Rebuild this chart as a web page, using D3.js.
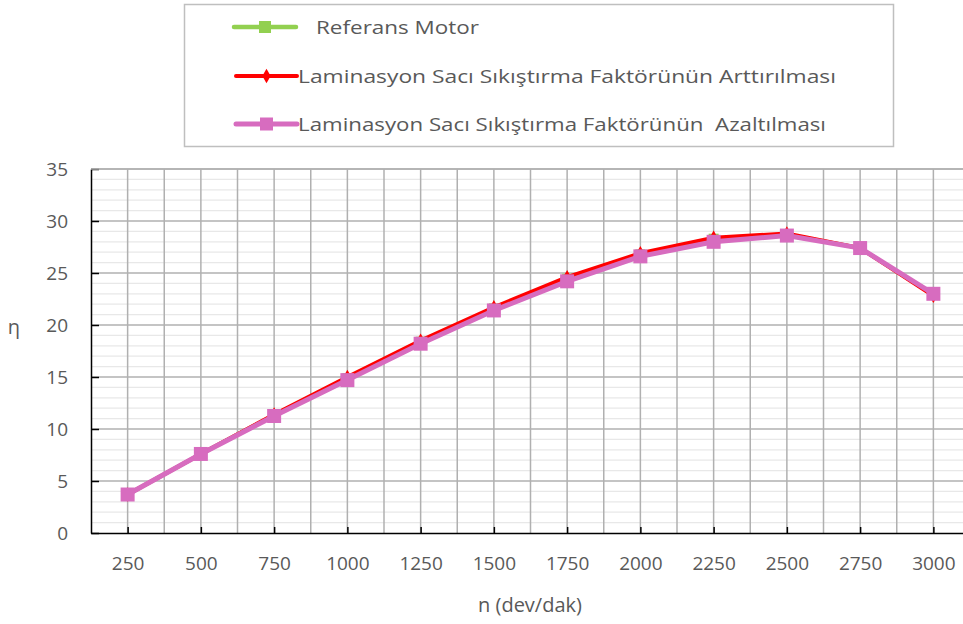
<!DOCTYPE html>
<html>
<head>
<meta charset="utf-8">
<script src="https://cdn.jsdelivr.net/npm/d3@7"></script>
<style>
  body { margin: 0; background: #fff; }
  svg { display: block; font-family: "Open Sans", sans-serif; }
</style>
</head>
<body>
<div id="chart"></div>
<script>
// Data
var speeds = ["250", "500", "750", "1000", "1250", "1500", "1750", "2000", "2250", "2500", "2750", "3000"];
var referans = [3.7, 7.6, 11.35, 14.9, 18.4, 21.6, 24.45, 26.8, 28.3, 28.7, 27.4, 22.9];
var arttirilmasi = [3.7, 7.6, 11.4, 15.0, 18.5, 21.7, 24.6, 26.9, 28.4, 28.8, 27.4, 22.8];
var azaltilmasi = [3.7, 7.6, 11.25, 14.7, 18.2, 21.4, 24.2, 26.6, 28.0, 28.6, 27.4, 23.0];
var yTicks = [0, 5, 10, 15, 20, 25, 30, 35];
var seriesNames = ["Referans Motor",
    "Laminasyon Sacı Sıkıştırma Faktörünün Arttırılması",
    "Laminasyon Sacı Sıkıştırma Faktörünün  Azaltılması"];

var svgWidth = 963;
var svgHeight = 624;

var plot = { left: 91, top: 169, right: 970, bottom: 533 };

var svg = d3.select("#chart")
    .append("svg")
    .attr("width", svgWidth)
    .attr("height", svgHeight);

var xScale = d3.scalePoint()
    .domain(speeds)
    .range([plot.left, plot.right])
    .padding(0.5);

var yScale = d3.scaleLinear()
    .domain([0, 35])
    .range([plot.bottom, plot.top]);

var step = xScale.step();

// minor horizontal gridlines (every 1)
svg.append("g").selectAll("line")
    .data(d3.range(1, 35).filter(d => d % 5 !== 0))
    .enter().append("line")
    .attr("x1", plot.left).attr("x2", plot.right)
    .attr("y1", d => yScale(d)).attr("y2", d => yScale(d))
    .attr("stroke", "#e8e8e8").attr("stroke-width", 1.3);

// vertical gridlines at category centers and edges
var vLines = [];
speeds.forEach(s => { vLines.push(xScale(s)); vLines.push(xScale(s) + step / 2); });
svg.append("g").selectAll("line")
    .data(vLines)
    .enter().append("line")
    .attr("x1", d => d).attr("x2", d => d)
    .attr("y1", plot.top).attr("y2", plot.bottom)
    .attr("stroke", "#b0b0b0").attr("stroke-width", 1.5);

// major horizontal gridlines
svg.append("g").selectAll("line")
    .data(yTicks.filter(d => d > 0))
    .enter().append("line")
    .attr("x1", plot.left).attr("x2", plot.right)
    .attr("y1", d => yScale(d)).attr("y2", d => yScale(d))
    .attr("stroke", "#b0b0b0").attr("stroke-width", 1.5);

// y axis
var yAxis = d3.axisLeft(yScale)
    .tickValues(yTicks)
    .tickSizeInner(-8)
    .tickSizeOuter(0)
    .tickPadding(23);

var yG = svg.append("g")
    .attr("transform", `translate(${plot.left}, 0)`)
    .call(yAxis);
yG.select(".domain").attr("stroke", "#000").attr("stroke-width", 1.5);
yG.selectAll(".tick line").attr("stroke", "#000").attr("stroke-width", 1.5);
yG.selectAll("text")
    .style("font-size", "19px")
    .style("font-family", "'Open Sans', sans-serif")
    .attr("fill", "#595959");

// x axis
var xAxis = d3.axisBottom(xScale)
    .tickSizeInner(-6)
    .tickSizeOuter(0)
    .tickPadding(24);

var xG = svg.append("g")
    .attr("transform", `translate(0, ${plot.bottom})`)
    .call(xAxis);
xG.select(".domain").attr("stroke", "#000").attr("stroke-width", 1.5);
xG.selectAll(".tick line").attr("stroke", "#000").attr("stroke-width", 1.5);
xG.selectAll("text")
    .style("font-size", "19px")
    .style("font-family", "'Open Sans', sans-serif")
    .attr("fill", "#595959");

// top border of plot area
svg.append("line")
    .attr("x1", plot.left).attr("x2", plot.right)
    .attr("y1", plot.top).attr("y2", plot.top)
    .attr("stroke", "#b0b0b0").attr("stroke-width", 1.5);

// axis titles
svg.append("text")
    .attr("x", 14).attr("y", 327)
    .attr("dy", "0.35em")
    .style("text-anchor", "middle")
    .style("font-size", "20px")
    .attr("fill", "#595959")
    .text("η");

svg.append("text")
    .attr("x", 530).attr("y", 605)
    .attr("dy", "0.35em")
    .style("text-anchor", "middle")
    .style("font-size", "20px")
    .attr("fill", "#595959")
    .text("n (dev/dak)");

// series
var line = d3.line()
    .x((d, i) => xScale(speeds[i]))
    .y(d => yScale(d));

// Referans Motor - green squares
svg.append("path")
    .datum(referans)
    .attr("d", line)
    .attr("fill", "none")
    .attr("stroke", "#92d050")
    .attr("stroke-width", 4);
svg.append("g").selectAll("rect")
    .data(referans)
    .enter().append("rect")
    .attr("x", (d, i) => xScale(speeds[i]) - 5)
    .attr("y", d => yScale(d) - 5)
    .attr("width", 10).attr("height", 10)
    .attr("fill", "#92d050");

// Arttirilmasi - red diamonds
svg.append("path")
    .datum(arttirilmasi)
    .attr("d", line)
    .attr("fill", "none")
    .attr("stroke", "#ff0000")
    .attr("stroke-width", 4);
svg.append("g").selectAll("path")
    .data(arttirilmasi)
    .enter().append("path")
    .attr("d", d3.symbol().type(d3.symbolDiamond).size(60))
    .attr("transform", (d, i) => `translate(${xScale(speeds[i])}, ${yScale(d)})`)
    .attr("fill", "#ff0000");

// Azaltilmasi - pink squares
svg.append("path")
    .datum(azaltilmasi)
    .attr("d", line)
    .attr("fill", "none")
    .attr("stroke", "#d76cbf")
    .attr("stroke-width", 5);
svg.append("g").selectAll("rect")
    .data(azaltilmasi)
    .enter().append("rect")
    .attr("x", (d, i) => xScale(speeds[i]) - 7)
    .attr("y", d => yScale(d) - 7)
    .attr("width", 14).attr("height", 14)
    .attr("fill", "#d76cbf");

// Legend
var legend = svg.append("g");
legend.append("rect")
    .attr("x", 184.5).attr("y", 4.5)
    .attr("width", 709).attr("height", 142)
    .attr("fill", "#fff")
    .attr("stroke", "#bfbfbf")
    .attr("stroke-width", 1.5);

var legendItems = [
    { name: seriesNames[0], color: "#92d050", marker: "square", y: 27, x1: 234, x2: 296, tx: 316, tw: 163, lw: 4.5, ms: 12 },
    { name: seriesNames[1], color: "#ff0000", marker: "diamond", y: 76, x1: 236, x2: 297, tx: 298, tw: 538, lw: 4, ms: 9 },
    { name: seriesNames[2], color: "#d76cbf", marker: "square", y: 124, x1: 236, x2: 297, tx: 298, tw: 528, lw: 5, ms: 13 }
];

legendItems.forEach(item => {
    legend.append("line")
        .attr("x1", item.x1).attr("x2", item.x2)
        .attr("y1", item.y).attr("y2", item.y)
        .attr("stroke", item.color)
        .attr("stroke-width", item.lw)
        .attr("stroke-linecap", "round");
    var cx = (item.x1 + item.x2) / 2;
    if (item.marker === "square") {
        legend.append("rect")
            .attr("x", cx - item.ms / 2).attr("y", item.y - item.ms / 2)
            .attr("width", item.ms).attr("height", item.ms)
            .attr("fill", item.color);
    } else {
        legend.append("path")
            .attr("d", d3.symbol().type(d3.symbolDiamond).size(60))
            .attr("transform", `translate(${cx}, ${item.y})`)
            .attr("fill", item.color);
    }
    legend.append("text")
        .attr("x", item.tx).attr("y", item.y)
        .attr("dy", "0.35em")
        .style("font-size", "19px")
        .style("white-space", "pre")
        .attr("textLength", item.tw)
        .attr("lengthAdjust", "spacingAndGlyphs")
        .attr("fill", "#595959")
        .text(item.name);
});
</script>
</body>
</html>
